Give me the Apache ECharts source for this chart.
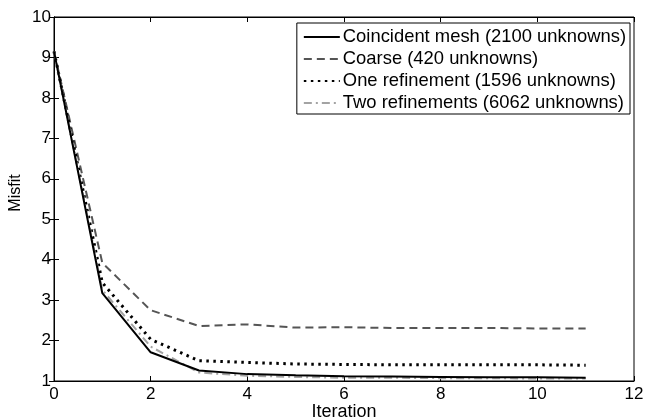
<!DOCTYPE html>
<html><head><meta charset="utf-8">
<script src="https://cdn.jsdelivr.net/npm/echarts@6/dist/echarts.min.js"></script>
<style>html,body{margin:0;padding:0;background:#fff}#c{width:647px;height:420px}</style>
</head><body><div id="c"></div>
<script>
const iterations = [0,1,2,3,4,5,6,7,8,9,10,11];
const coincident = [9.15,3.17,1.71,1.26,1.17,1.14,1.12,1.11,1.10,1.09,1.09,1.08];
const coarse     = [9.15,3.92,2.75,2.36,2.40,2.32,2.33,2.31,2.31,2.31,2.30,2.30];
const oneRef     = [9.15,3.43,2.03,1.50,1.46,1.42,1.41,1.40,1.40,1.40,1.40,1.39];
const twoRef     = [9.15,3.25,1.85,1.21,1.13,1.10,1.08,1.08,1.07,1.07,1.06,1.06];
const names = ['Coincident mesh (2100 unknowns)','Coarse (420 unknowns)','One refinement (1596 unknowns)','Two refinements (6062 unknowns)'];
const xTicks = [0,2,4,6,8,10,12];
const yTicks = [1,2,3,4,5,6,7,8,9,10];

const font = '"Liberation Sans", Arial, sans-serif';
const pairs = a => iterations.map((x,i)=>[x,a[i]]);
const chart = echarts.init(document.getElementById('c'));
const tickStyle = {show:true, inside:true, length:5, lineStyle:{color:'#000'}};
chart.setOption({
  animation:false,
  grid:{left:54, right:13, top:17, bottom:39, outerBoundsMode:'none', containLabel:false, show:true, borderColor:'#000', borderWidth:1},
  xAxis:[{
    type:'value', min:xTicks[0], max:xTicks[xTicks.length-1], interval:2, name:'Iteration', nameLocation:'middle', nameGap:22, nameMoveOverlap:false,
    nameTextStyle:{fontFamily:font, fontSize:18, color:'#000'},
    axisLine:{lineStyle:{color:'#000'}}, axisTick:tickStyle, splitLine:{show:false},
    axisLabel:{fontFamily:font, fontSize:17, color:'#000', margin:5}
  },{
    type:'value', min:xTicks[0], max:xTicks[xTicks.length-1], interval:2, position:'top',
    axisLine:{lineStyle:{color:'#000'}}, axisTick:tickStyle, splitLine:{show:false}, axisLabel:{show:false}
  }],
  yAxis:[{
    type:'value', min:yTicks[0], max:yTicks[yTicks.length-1], interval:1, name:'Misfit', nameLocation:'middle', nameGap:30, nameMoveOverlap:false,
    nameTextStyle:{fontFamily:font, fontSize:16, color:'#000', padding:[0,0,0,12]},
    axisLine:{lineStyle:{color:'#000'}}, axisTick:tickStyle, splitLine:{show:false},
    axisLabel:{fontFamily:font, fontSize:17, color:'#000', margin:3}
  },{
    type:'value', min:yTicks[0], max:yTicks[yTicks.length-1], interval:1, position:'right',
    axisLine:{lineStyle:{color:'#000'}}, axisTick:tickStyle, splitLine:{show:false}, axisLabel:{show:false}
  }],
  legend:{
    right:17, top:23, orient:'vertical', itemGap:4, itemWidth:36, itemHeight:18,
    padding:[5,4,2,6], borderColor:'#000', borderWidth:1, backgroundColor:'#fff',
    itemStyle:{opacity:0},
    textStyle:{fontFamily:font, fontSize:18.4, color:'#000', padding:[0,0,0,-2]},
    data:names
  },
  series:[
    {name:names[0], type:'line', data:pairs(coincident), symbol:'none', lineStyle:{color:'#000', width:2, type:'solid'}, itemStyle:{color:'#000'}, z:4},
    {name:names[1], type:'line', data:pairs(coarse), symbol:'none', lineStyle:{color:'#555', width:2, type:[8,5]}, itemStyle:{color:'#555'}},
    {name:names[2], type:'line', data:pairs(oneRef), symbol:'none', lineStyle:{color:'#000', width:3, type:[2.5,4.5]}, itemStyle:{color:'#000'}},
    {name:names[3], type:'line', data:pairs(twoRef), symbol:'none', lineStyle:{color:'#a3a3a3', width:2, type:[8,4,2,4]}, itemStyle:{color:'#a3a3a3'}}
  ]
});
</script></body></html>
